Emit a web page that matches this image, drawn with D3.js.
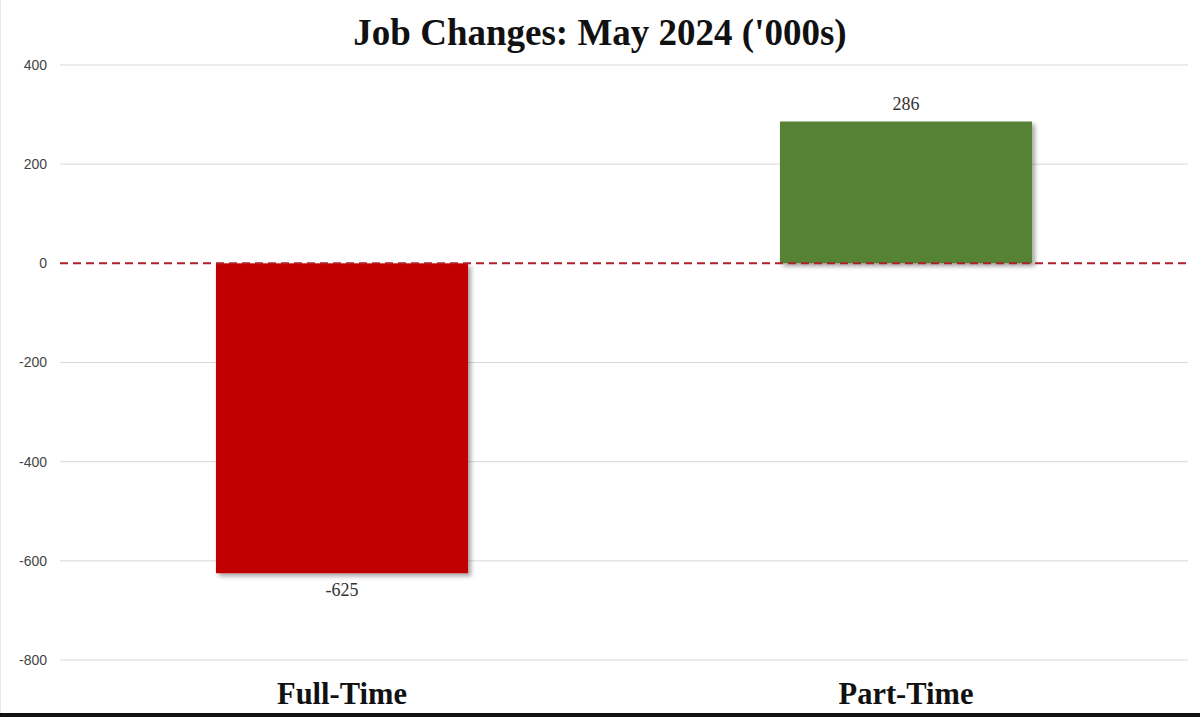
<!DOCTYPE html>
<html><head><meta charset="utf-8">
<script src="https://cdn.jsdelivr.net/npm/d3@7"></script>
<style>body{margin:0;background:#fff}svg{display:block}</style>
</head><body>
<svg id="c" width="1200" height="717"></svg>
<script>
const categories = ["Full-Time", "Part-Time"];
const values = [-625, 286];
const barColors = ["#c00000", "#548235"];
const yTicks = [400, 200, 0, -200, -400, -600, -800];
const title = "Job Changes: May 2024 ('000s)";

const svg = d3.select("#c");
const W = 1200, H = 717;
const m = {left: 60, right: 12, top: 65, bottom: 57};

const defs = svg.append("defs");
const f = defs.append("filter").attr("id","sh").attr("x","-10%").attr("y","-10%").attr("width","130%").attr("height","130%");
f.append("feDropShadow").attr("dx",3).attr("dy",3).attr("stdDeviation",2).attr("flood-color","#000").attr("flood-opacity",0.35);

svg.append("rect").attr("width",W).attr("height",H).attr("fill","#fff");
svg.append("line").attr("x1",0.5).attr("x2",0.5).attr("y1",0).attr("y2",H).attr("stroke","#e6e6e6");

const x = d3.scaleBand().domain(categories).range([m.left, W - m.right]).paddingInner(0.553).paddingOuter(0.2765);
const y = d3.scaleLinear().domain([-800, 400]).range([H - m.bottom, m.top]);

// gridlines
svg.append("g").selectAll("line").data(yTicks.filter(d => d !== 0)).join("line")
  .attr("x1", m.left).attr("x2", W - m.right)
  .attr("y1", d => y(d)).attr("y2", d => y(d))
  .attr("stroke", "#d9d9d9").attr("stroke-width", 1);

// y axis labels
const yAxis = d3.axisLeft(y).tickValues(yTicks).tickFormat(d => String(d)).tickSize(0).tickPadding(13);
const ga = svg.append("g").attr("transform", `translate(${m.left},0)`).call(yAxis);
ga.select(".domain").remove();
ga.selectAll("text").attr("font-family","Liberation Sans, Arial, sans-serif").attr("font-size",14).attr("fill","#444");

// bars
svg.append("g").selectAll("rect").data(values).join("rect")
  .attr("x", (d,i) => x(categories[i]))
  .attr("width", x.bandwidth())
  .attr("y", d => y(Math.max(0, d)))
  .attr("height", d => Math.abs(y(d) - y(0)))
  .attr("fill", (d,i) => barColors[i])
  .attr("filter","url(#sh)");

// zero line
svg.append("line").attr("x1", m.left).attr("x2", W - m.right)
  .attr("y1", y(0)).attr("y2", y(0))
  .attr("stroke", "#b0202a").attr("stroke-width", 2).attr("stroke-dasharray", "8,5");

// value labels
svg.append("g").selectAll("text").data(values).join("text")
  .attr("x", (d,i) => x(categories[i]) + x.bandwidth()/2)
  .attr("y", d => d >= 0 ? y(d) - 12 : y(d) + 23)
  .attr("text-anchor","middle")
  .attr("font-family","Liberation Serif, Times New Roman, serif")
  .attr("font-size",18).attr("fill","#333")
  .text(d => String(d));

// category labels
svg.append("g").selectAll("text").data(categories).join("text")
  .attr("x", d => x(d) + x.bandwidth()/2)
  .attr("y", 704)
  .attr("text-anchor","middle")
  .attr("font-family","Liberation Serif, Times New Roman, serif")
  .attr("font-weight","bold").attr("font-size",30.5).attr("fill","#111")
  .text(d => d);

// title
svg.append("text").attr("x", 600).attr("y", 45).attr("text-anchor","middle")
  .attr("font-family","Liberation Serif, Times New Roman, serif")
  .attr("font-weight","bold").attr("font-size",37).attr("fill","#111")
  .text(title);

// bottom border
svg.append("rect").attr("x",0).attr("y",713).attr("width",W).attr("height",4).attr("fill","#111");
</script>
</body></html>
